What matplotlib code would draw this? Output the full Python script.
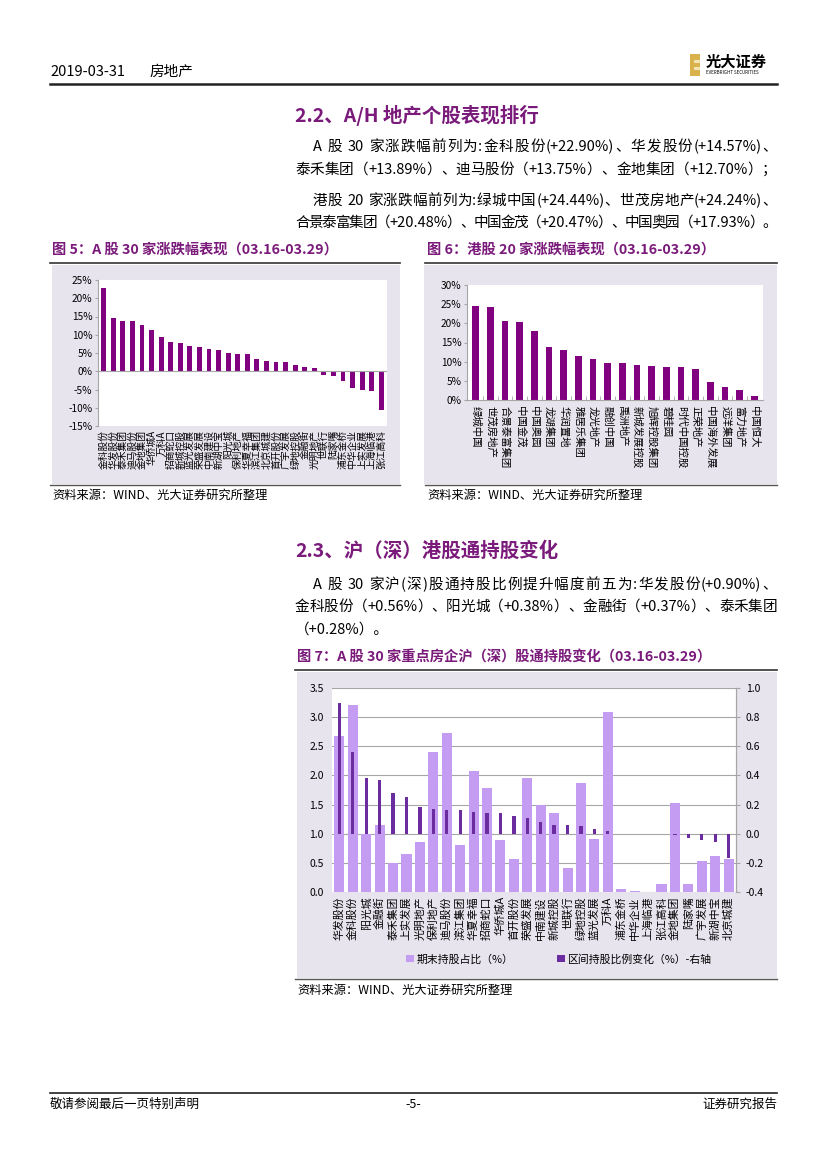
import matplotlib
matplotlib.use('Agg')
import matplotlib.pyplot as plt
import numpy as np
import re
from matplotlib.patches import Rectangle

plt.rcParams['font.family'] = ['Noto Sans CJK SC', 'DejaVu Sans']
plt.rcParams['axes.unicode_minus'] = False

# ---- data: fig 5, A-share 30 (% change 03.16-03.29)
a_names = ['金科股份', '华发股份', '泰禾集团', '迪马股份', '金地集团', '华侨城A', '万科A',
           '招商蛇口', '新城控股', '蓝光发展', '荣盛发展', '中南建设', '新湖中宝', '阳光城',
           '保利地产', '华夏幸福', '滨江集团', '北京城建', '首开股份', '广宇发展', '绿地控股',
           '金融街', '光明地产', '世联行', '陆家嘴', '浦东金桥', '中华企业', '上实发展',
           '上海临港', '张江高科']
a_chg = [22.90, 14.57, 13.89, 13.75, 12.70, 11.2, 9.5, 7.9, 7.8, 6.8, 6.7, 6.1, 5.9, 5.1,
         4.8, 4.6, 3.3, 2.7, 2.6, 2.5, 1.7, 1.3, 0.9, -0.9, -1.2, -2.8, -4.5, -5.2, -5.5, -10.5]

# ---- data: fig 6, HK 20
h_names = ['绿城中国', '世茂房地产', '合景泰富集团', '中国金茂', '中国奥园', '龙湖集团', '华润置地',
           '雅居乐集团', '龙光地产', '融创中国', '禹洲地产', '新城发展控股', '旭辉控股集团', '碧桂园',
           '时代中国控股', '正荣地产', '中国海外发展', '远洋集团', '富力地产', '中国恒大']
h_chg = [24.44, 24.24, 20.48, 20.47, 17.93, 13.8, 13.1, 11.6, 10.7, 9.7, 9.7, 9.1, 9.0, 8.7,
         8.5, 8.1, 4.8, 3.4, 2.6, 1.0]

# ---- data: fig 7, northbound holdings
s_names = ['华发股份', '金科股份', '阳光城', '金融街', '泰禾集团', '上实发展', '光明地产', '保利地产',
           '迪马股份', '滨江集团', '华夏幸福', '招商蛇口', '华侨城A', '首开股份', '荣盛发展', '中南建设',
           '新城控股', '世联行', '绿地控股', '蓝光发展', '万科A', '浦东金桥', '中华企业', '上海临港',
           '张江高科', '金地集团', '陆家嘴', '广宇发展', '新湖中宝', '北京城建']
hold_end = [2.67, 3.21, 1.00, 1.15, 0.50, 0.65, 0.86, 2.41, 2.73, 0.81, 2.08, 1.78, 0.89, 0.56,
            1.95, 1.49, 1.35, 0.41, 1.87, 0.91, 3.09, 0.05, 0.02, 0.005, 0.14, 1.53, 0.13, 0.54,
            0.62, 0.57]
hold_chg = [0.90, 0.56, 0.38, 0.37, 0.28, 0.25, 0.18, 0.17, 0.16, 0.16, 0.15, 0.14, 0.14, 0.12,
            0.11, 0.08, 0.06, 0.06, 0.05, 0.03, 0.02, 0.0, 0.0, 0.0, 0.0, -0.01, -0.03, -0.04,
            -0.06, -0.17]

W, H = 827, 1169
PURPLE = '#800080'
TITLE = '#7A1A7A'
BG = '#E8E4EE'
LIGHT = '#C49CF2'
DARK = '#6A2C9E'
GRID = '#A6A6A6'

fig = plt.figure(figsize=(W / 100, H / 100), dpi=100)
renderer = fig.canvas.get_renderer()


def fx(x):
    return x / W


def fy(y):
    return 1 - y / H


def text(x, y, s, **kw):
    return fig.text(fx(x), fy(y), s, va='center', **kw)


def justify(x0, x1, y, s, size=10.5):
    # spread the tokens of one line so it fills x0..x1, like the Word layout
    items = []
    for t in re.findall(r'[A-Za-z0-9.+%\-():]+| |.', s):
        if t == ' ':
            items[-1][1] += size * 100 / 72 * 0.3
            continue
        tt = text(0, y, t, fontsize=size)
        items.append([t, tt.get_window_extent(renderer).width])
        tt.remove()
    gap = (x1 - x0 - sum(w for _, w in items)) / (len(items) - 1)
    x = x0
    for t, w in items:
        text(x, y, t, fontsize=size)
        x += w + gap


def hline(x0, x1, y, lw=1.0, color='#333333'):
    fig.add_artist(plt.Line2D([fx(x0), fx(x1)], [fy(y), fy(y)], lw=lw, color=color,
                              transform=fig.transFigure))


def box(x0, y0, x1, y1, color):
    fig.add_artist(Rectangle((fx(x0), fy(y1)), fx(x1) - fx(x0), fy(y0) - fy(y1),
                             transform=fig.transFigure, facecolor=color, edgecolor='none',
                             zorder=-5))


def axes_px(x0, y0, x1, y1):
    return fig.add_axes([fx(x0), fy(y1), fx(x1) - fx(x0), fy(y0) - fy(y1)])


# header
text(50, 72, '2019-03-31', fontsize=10.5)
text(150, 72, '房地产', fontsize=10.5)
hline(50, 777, 84, lw=1.8, color='#222222')
box(690, 54, 700, 76, '#D9B24C')
box(694, 60, 700, 63, '#F3E4B8')
box(694, 67, 700, 70, '#F3E4B8')
text(706, 62, '光大证券', fontsize=11, fontweight='bold')
text(706, 73, 'EVERBRIGHT SECURITIES', fontsize=3.2)

# section 2.2
text(295, 115, '2.2、A/H 地产个股表现排行', fontsize=14, fontweight='bold', color=TITLE)
justify(313, 777, 147, 'A 股 30 家涨跌幅前列为:金科股份(+22.90%)、华发股份(+14.57%)、')
justify(295, 777, 170, '泰禾集团（+13.89%）、迪马股份（+13.75%）、金地集团（+12.70%）；')
justify(313, 777, 201, '港股 20 家涨跌幅前列为:绿城中国(+24.44%)、世茂房地产(+24.24%)、')
justify(295, 777, 223, '合景泰富集团（+20.48%）、中国金茂（+20.47%）、中国奥园（+17.93%）。')

text(52, 250, '图 5：A 股 30 家涨跌幅表现（03.16-03.29）', fontsize=10.3, fontweight='bold', color=TITLE)
text(427, 250, '图 6：港股 20 家涨跌幅表现（03.16-03.29）', fontsize=10.3, fontweight='bold', color=TITLE)
hline(50, 400, 263, lw=1.2)
hline(425, 777, 263, lw=1.2)
box(52, 265, 400, 484, BG)
box(424, 265, 777, 484, BG)
hline(50, 400, 485, lw=1.0, color='#555555')
hline(425, 777, 485, lw=1.0, color='#555555')
text(52, 495, '资料来源：WIND、光大证券研究所整理', fontsize=8.8)
text(427, 495, '资料来源：WIND、光大证券研究所整理', fontsize=8.8)

# fig 5
ax5 = axes_px(98, 280, 387, 426)
x5 = np.arange(len(a_names))
ax5.bar(x5, a_chg, width=0.5, color=PURPLE)
ax5.set_xlim(-0.6, len(a_names) - 0.4)
ax5.set_ylim(-15, 25)
ax5.set_yticks(np.arange(-15, 26, 5))
ax5.set_yticklabels([f'{v}%' for v in range(-15, 26, 5)], fontsize=7.3)
ax5.axhline(0, color=GRID, lw=0.8)
ax5.set_xticks(x5)
ax5.set_xticklabels(a_names, rotation=90, fontsize=7)
ax5.tick_params(axis='x', length=0, pad=3)
ax5.tick_params(axis='y', length=2, color=GRID, pad=2)
for s in ['top', 'right', 'bottom']:
    ax5.spines[s].set_visible(False)
ax5.spines['left'].set_color(GRID)

# fig 6
ax6 = axes_px(467, 285, 763, 400)
x6 = np.arange(len(h_names))
ax6.bar(x6, h_chg, width=0.45, color=PURPLE)
ax6.set_xlim(-0.6, len(h_names) - 0.4)
ax6.set_ylim(0, 30)
ax6.set_yticks(np.arange(0, 31, 5))
ax6.set_yticklabels([f'{v}%' for v in range(0, 31, 5)], fontsize=7.3)
ax6.set_xticks(x6)
ax6.set_xticklabels(h_names, rotation=270, fontsize=7.5)
ax6.set_xticks(x6[:-1] + 0.5, minor=True)
ax6.tick_params(axis='x', which='major', length=0, pad=4)
ax6.tick_params(axis='x', which='minor', length=3, color=GRID, direction='in')
ax6.tick_params(axis='y', length=2, color=GRID, pad=2)
for s in ['top', 'right']:
    ax6.spines[s].set_visible(False)
ax6.spines['left'].set_color(GRID)
ax6.spines['bottom'].set_color(GRID)

# section 2.3
text(295, 551, '2.3、沪（深）港股通持股变化', fontsize=14, fontweight='bold', color=TITLE)
justify(313, 777, 585, 'A 股 30 家沪(深)股通持股比例提升幅度前五为:华发股份(+0.90%)、')
justify(295, 777, 607, '金科股份（+0.56%）、阳光城（+0.38%）、金融街（+0.37%）、泰禾集团')
text(295, 630, '（+0.28%）。', fontsize=10.5)
text(297, 657, '图 7：A 股 30 家重点房企沪（深）股通持股变化（03.16-03.29）', fontsize=10.3,
     fontweight='bold', color=TITLE)
hline(295, 777, 670, lw=1.2)
box(297, 672, 777, 978, BG)
hline(295, 777, 979, lw=1.0, color='#555555')
text(297, 990, '资料来源：WIND、光大证券研究所整理', fontsize=8.8)

# fig 7
ax7 = axes_px(332, 688, 736, 892)
x7 = np.arange(len(s_names))
ax7.bar(x7, hold_end, width=0.75, color=LIGHT, zorder=2)
ax7.set_xlim(-0.55, len(s_names) - 0.45)
ax7.set_ylim(0, 3.5)
ax7.set_yticks(np.arange(0, 3.51, 0.5))
ax7.set_yticklabels([f'{v:.1f}' for v in np.arange(0, 3.51, 0.5)], fontsize=7.5)
ax7.grid(axis='y', color=GRID, lw=0.8, zorder=0)
ax7.set_axisbelow(True)
ax7.set_xticks(x7)
ax7.set_xticklabels(s_names, rotation=90, fontsize=7.8)
ax7.tick_params(axis='x', length=0, pad=3)
ax7.tick_params(axis='y', length=0, pad=6)
ax7b = ax7.twinx()
ax7b.bar(x7, hold_chg, width=0.25, color=DARK, zorder=3)
ax7b.set_ylim(-0.4, 1.0)
ax7b.set_yticks(np.arange(-0.4, 1.01, 0.2))
ax7b.set_yticklabels([f'{v:.1f}' for v in np.arange(-0.4, 1.01, 0.2)], fontsize=7.5)
ax7b.tick_params(axis='y', length=3, color=GRID, pad=4)
for a in (ax7, ax7b):
    for s in ['top', 'left', 'bottom']:
        a.spines[s].set_visible(False)
    a.spines['right'].set_color(GRID)

h1 = Rectangle((0, 0), 1, 1, facecolor=LIGHT)
h2 = Rectangle((0, 0), 1, 1, facecolor=DARK)
fig.legend([h1, h2], ['期末持股占比（%）', '区间持股比例变化（%）-右轴'], loc='center',
           bbox_to_anchor=(fx(559), fy(959)), ncol=2, frameon=False, fontsize=7.8,
           handlelength=0.7, handleheight=0.7, handletextpad=0.3, columnspacing=4)

# footer
hline(50, 777, 1093, lw=1.2, color='#222222')
text(50, 1104, '敬请参阅最后一页特别声明', fontsize=9)
fig.text(fx(413), fy(1104), '-5-', fontsize=9, ha='center', va='center')
fig.text(fx(777), fy(1104), '证券研究报告', fontsize=9, ha='right', va='center')

fig.savefig('out.png', dpi=100, facecolor='white')
